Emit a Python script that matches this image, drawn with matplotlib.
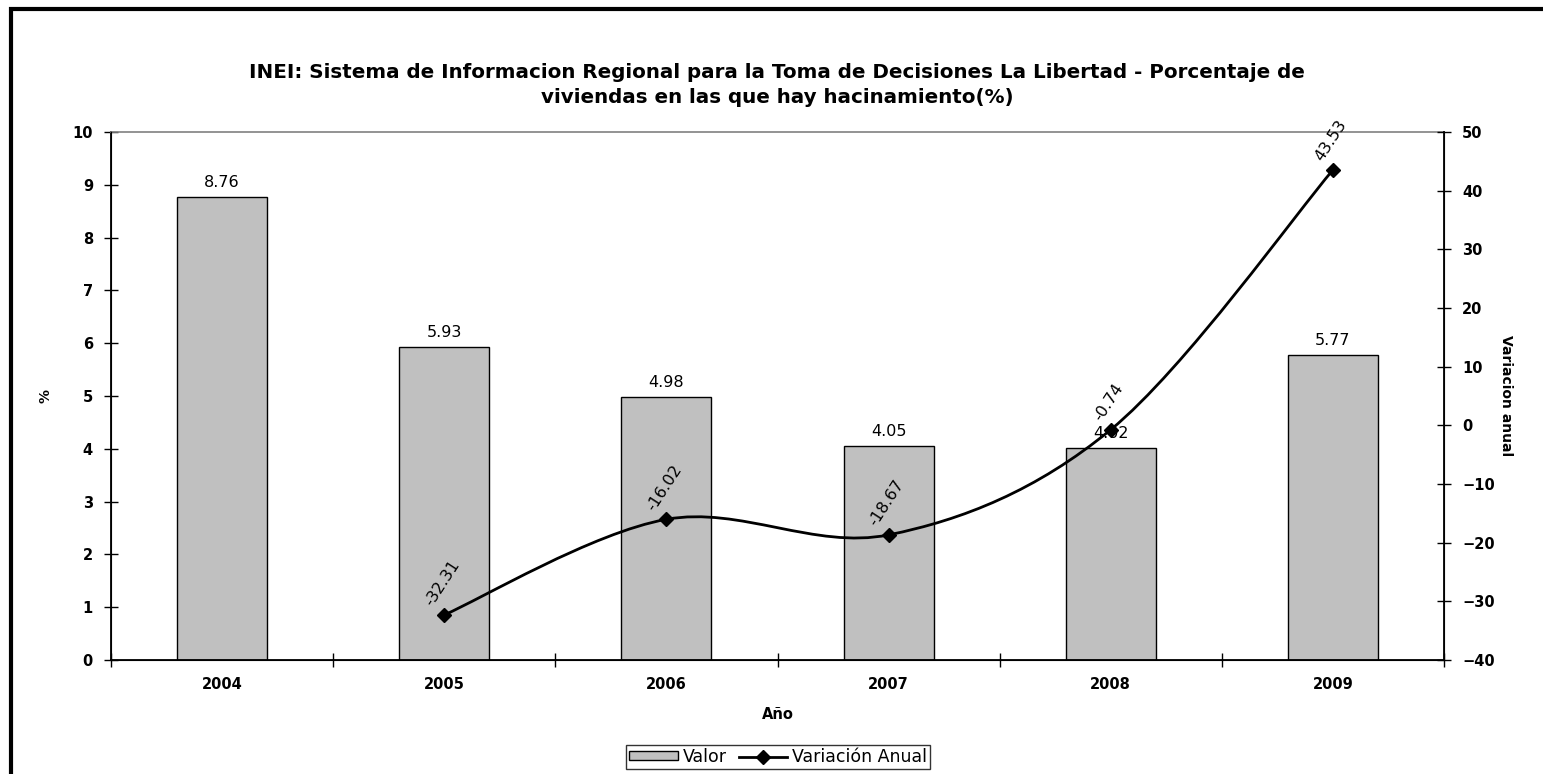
import matplotlib
matplotlib.use("Agg")
import matplotlib.pyplot as plt
from matplotlib.path import Path
from matplotlib.patches import PathPatch, Rectangle
from matplotlib.lines import Line2D
from matplotlib.patches import Patch
import numpy as np

years = ["2004", "2005", "2006", "2007", "2008", "2009"]
valor = [8.76, 5.93, 4.98, 4.05, 4.02, 5.77]
var_years = ["2005", "2006", "2007", "2008", "2009"]
variacion = [-32.31, -16.02, -18.67, -0.74, 43.53]
valor_labels = ["8.76", "5.93", "4.98", "4.05", "4.02", "5.77"]
var_labels = ["-32.31", "-16.02", "-18.67", "-0.74", "43.53"]

title = ("INEI: Sistema de Informacion Regional para la Toma de Decisiones La Libertad - Porcentaje de\n"
         "viviendas en las que hay hacinamiento(%)")

plt.rcParams['font.family'] = ['DejaVu Sans']

W, H = 1543, 774
fig = plt.figure(figsize=(W / 100, H / 100), dpi=100)
ax = fig.add_axes([111 / W, 1 - 660 / H, (1444 - 111) / W, (660 - 132) / H])

x = np.arange(len(years))
ax.bar(x, valor, width=0.405, color="#C0C0C0", edgecolor="black", linewidth=1.0, zorder=2)
for xi, v, lab in zip(x, valor, valor_labels):
    ax.annotate(lab, (xi, v), xytext=(0, 7), textcoords="offset pixels",
                ha="center", va="bottom", fontsize=11.5)

ax.set_xlim(-0.5, len(years) - 0.5)
ax.set_ylim(0, 10)
ax.set_yticks(range(0, 11))
ax.set_xticks(np.arange(-0.5, len(years), 1.0))
ax.set_xticklabels([])
ax.set_xticks(x, minor=True)
ax.set_xticklabels(years, minor=True, fontweight="bold", fontsize=10.5)
ax.tick_params(axis="x", which="minor", length=0, pad=12)
ax.tick_params(axis="x", which="major", direction="inout", length=10, width=1)
ax.tick_params(axis="y", direction="inout", length=10, width=1, pad=8)
for lab in ax.get_yticklabels():
    lab.set_fontweight("bold")
    lab.set_fontsize(10.5)
ax.set_ylabel("%", fontweight="bold", fontsize=10, rotation=90, labelpad=14)
ax.set_xlabel("Año", fontweight="bold", fontsize=10.5, labelpad=11)
for s in ["left", "bottom"]:
    ax.spines[s].set_color("black")
    ax.spines[s].set_linewidth(1.3)
ax.spines["top"].set_color("#808080")
ax.spines["top"].set_linewidth(1.2)

ax2 = ax.twinx()
ax2.set_ylim(-40, 50)
ax2.set_yticks(range(-40, 51, 10))
ax2.tick_params(axis="y", direction="inout", length=10, width=1, pad=8)
for lab in ax2.get_yticklabels():
    lab.set_fontweight("bold")
    lab.set_fontsize(10.5)
ax2.spines["right"].set_color("black")
ax2.spines["right"].set_linewidth(1.3)
ax2.spines["top"].set_visible(False)
ax2.set_ylabel("Variacion anual", fontweight="bold", fontsize=10, rotation=270, labelpad=13)

# smoothed line (Catmull-Rom as Bezier curves)
vx = np.array([years.index(y) for y in var_years], dtype=float)
vy = np.array(variacion, dtype=float)
P = np.column_stack([vx, vy])
n = len(P)
verts = [tuple(P[0])]
codes = [Path.MOVETO]
for i in range(n - 1):
    p0 = P[i - 1] if i > 0 else P[i]
    p1 = P[i]
    p2 = P[i + 1]
    p3 = P[i + 2] if i + 2 < n else P[i + 1]
    c1 = p1 + (p2 - p0) / 6.0
    c2 = p2 - (p3 - p1) / 6.0
    verts += [tuple(c1), tuple(c2), tuple(p2)]
    codes += [Path.CURVE4] * 3
ax2.add_patch(PathPatch(Path(verts, codes), fill=False, edgecolor="black", linewidth=2, zorder=3))
ax2.plot(vx, vy, linestyle="none", marker="D", markersize=7, color="black", zorder=4)
for xi, v, lab in zip(vx, vy, var_labels):
    ax2.annotate(lab, (xi, v), xytext=(-2, 6), textcoords="offset pixels",
                 ha="center", va="bottom", rotation=57, fontsize=11.5, zorder=5)

fig.text(777 / W, 1 - 85 / H, title, ha="center", va="center", fontweight="bold",
         fontsize=14.3, linespacing=1.4)

handles = [Patch(facecolor="#C0C0C0", edgecolor="black", linewidth=1.0),
           Line2D([0], [0], color="black", linewidth=2, marker="D", markersize=7)]
leg = fig.legend(handles, ["Valor", "Variación Anual"], loc="center",
                 bbox_to_anchor=(778 / W, 1 - 757 / H), ncol=2, frameon=True,
                 fontsize=12.5, fancybox=False, edgecolor="black",
                 handlelength=2.8, handletextpad=0.25, columnspacing=0.7,
                 borderpad=0.2, handleheight=0.45, borderaxespad=0.2)
leg.get_frame().set_linewidth(1.0)

# outer chart border (left and top visible)
fig.add_artist(Rectangle((11 / W, -0.1), 1.2, 1 - 9 / H + 0.1, transform=fig.transFigure,
                         fill=False, edgecolor="black", linewidth=3))

fig.savefig("out.png", dpi=100)
